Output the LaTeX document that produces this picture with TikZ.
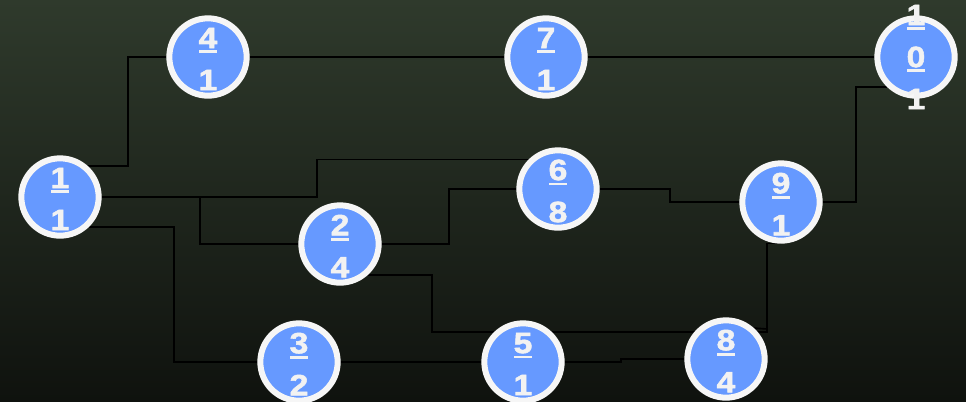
\documentclass[tikz,border=0pt]{standalone}
\usepackage{fontspec}
\setmainfont{Liberation Sans}
\newfontfamily\numfont{Liberation Sans}[FakeStretch=1.15, FakeBold=1.8]
\usetikzlibrary{calc}
\pgfdeclarelayer{background}
\pgfsetlayers{background,main}
\definecolor{bgtop}{RGB}{47,58,44}
\definecolor{bgbot}{RGB}{15,18,14}
\definecolor{discblue}{RGB}{102,153,255}
\definecolor{ringwhite}{RGB}{246,246,246}
\definecolor{numwhite}{RGB}{242,242,242}
\newcommand{\topnum}[1]{\makebox[13.5pt]{#1}\llap{\rule[-4pt]{13.5pt}{2.2pt}}}

\begin{document}
\begin{tikzpicture}[x=0.75pt, y=-0.75pt,
		disc/.style={circle, draw=ringwhite, fill=discblue, line width=4.5pt, minimum size=58pt, inner sep=0pt},
		numtext/.style={text=numwhite, font=\numfont\fontsize{22}{31.5}\selectfont\bfseries, align=center, inner sep=0pt},
		wire/.style={draw=black, line width=1.2pt}]
		\useasboundingbox (0,0) rectangle (966,401);
		\node[disc, label={[numtext, yshift=-1.5pt]center:{\topnum{1}\\1}}] (n1) at (60,197) {};
		\node[disc, label={[numtext, yshift=-1.5pt]center:{\topnum{4}\\1}}] (n4) at (208,57) {};
		\node[disc, label={[numtext, yshift=-1.5pt]center:{\topnum{7}\\1}}] (n7) at (546,57) {};
		\node[disc, label={[numtext]center:{\topnum{1}\\\topnum{0}\\1}}] (n10) at (916,57) {};
		\node[disc, label={[numtext, yshift=-1.5pt]center:{\topnum{6}\\8}}] (n6) at (558,189) {};
		\node[disc, label={[numtext, yshift=-1.5pt]center:{\topnum{9}\\1}}] (n9) at (781,202) {};
		\node[disc, label={[numtext, yshift=-1.5pt]center:{\topnum{2}\\4}}] (n2) at (340,244) {};
		\node[disc, label={[numtext, yshift=-1.5pt]center:{\topnum{3}\\2}}] (n3) at (299,362) {};
		\node[disc, label={[numtext, yshift=-1.5pt]center:{\topnum{5}\\1}}] (n5) at (523,362) {};
		\node[disc, label={[numtext, yshift=-1.5pt]center:{\topnum{8}\\4}}] (n8) at (726,359) {};
		\begin{pgfonlayer}{background}
			\shade[top color=bgtop, bottom color=bgbot] (0,0) rectangle (966,401);
			\draw[wire] (n1.48) -- ++(40,0) |- (n4);
			\draw[wire] (n4) -- (n7);
			\draw[wire] (n7) -- (n10);
			\draw[wire] (n1) -- (317,197) |- (n6.135);
			\draw[wire] (n1) -- (200,197) |- (n2);
			\draw[wire] (n1.-46) -- ++(85,0) |- (n3);
			\draw[wire] (n2) -- (449,244) |- (n6);
			\draw[wire] (n2.-48) -- ++(64,0) |- (767,332) |- (n9.south);
			\draw[wire] (n8.48) -- (767,329);
			\draw[wire] (n3) -- (n5);
			\draw[wire] (n5) -- (621,362) |- (n8);
			\draw[wire] (n6) -- (670,189) |- (n9);
			\draw[wire] (n9) -- (856,202) |- (n10.226);
		\end{pgfonlayer}
	\end{tikzpicture}
\end{document}
